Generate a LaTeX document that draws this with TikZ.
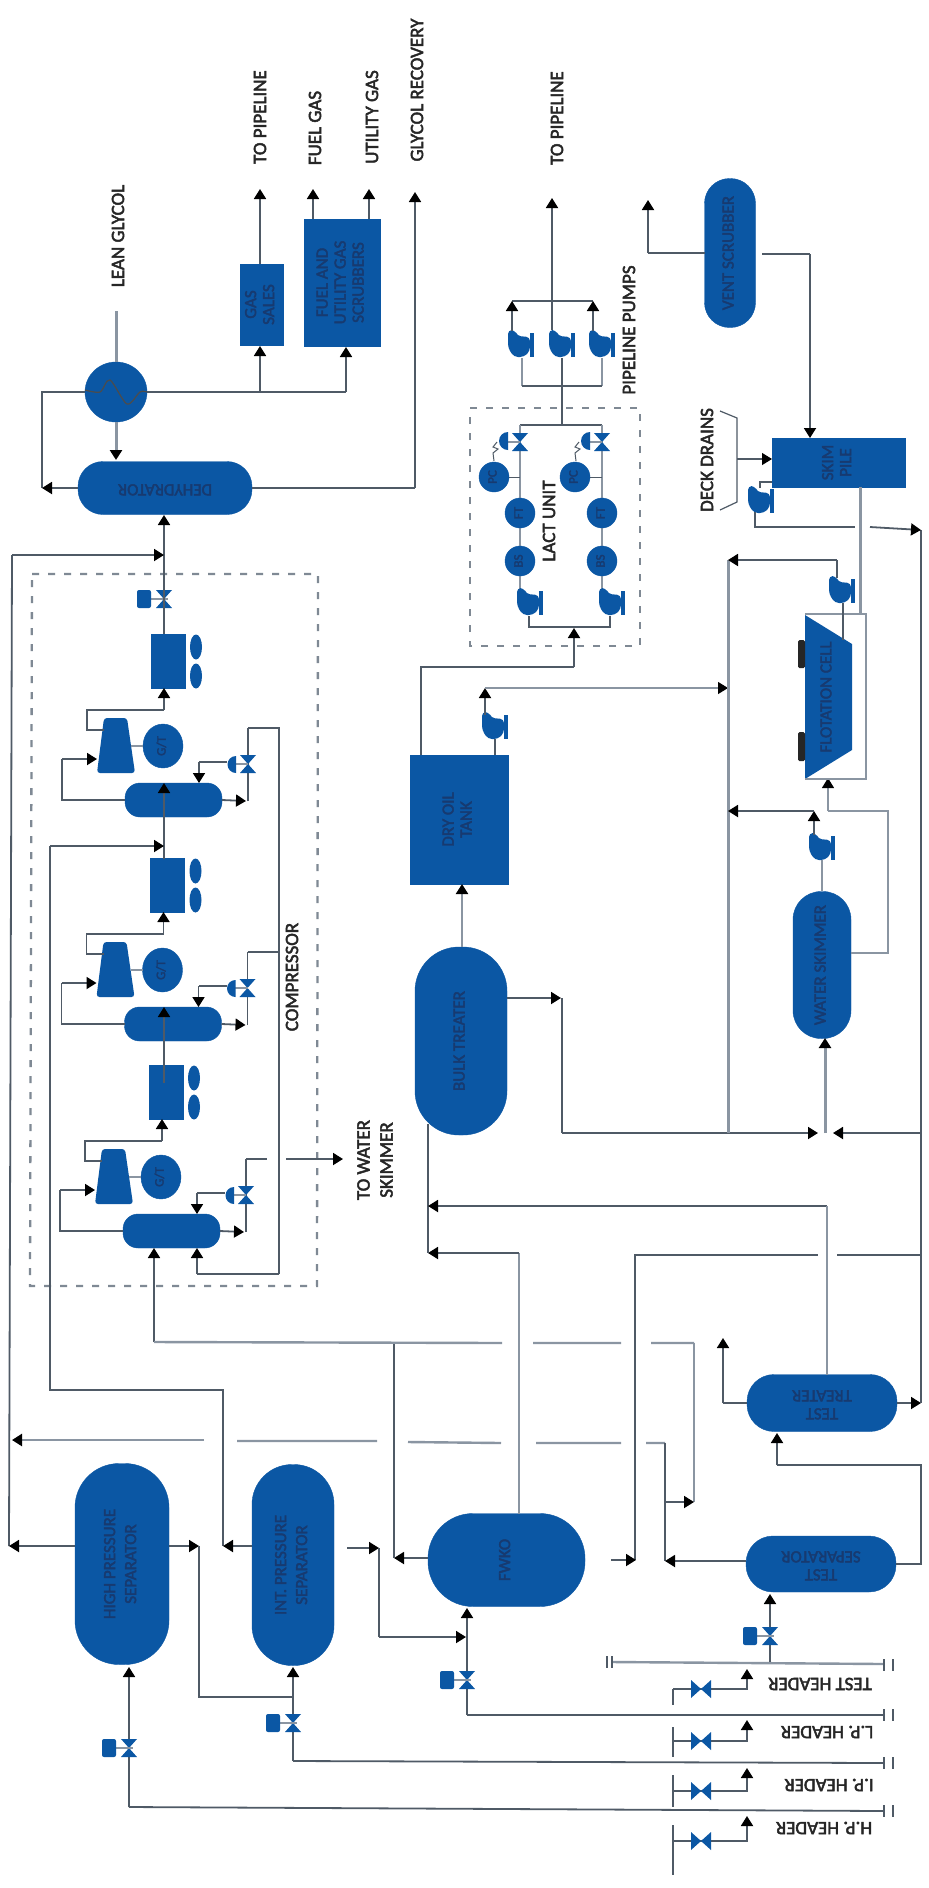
\documentclass[tikz,border=0pt]{standalone}
\usepackage{fontspec}
\usepackage{graphicx}
\setmainfont{Carlito}
\newfontfamily\heavyfont{Carlito}[FakeBold=2.4]
\usetikzlibrary{arrows.meta,shapes.geometric}
\definecolor{vblue}{HTML}{0B57A4}
\definecolor{vtext}{HTML}{173A70}
\definecolor{pipedark}{HTML}{4F5A66}
\definecolor{pipegrey}{HTML}{8A95A2}
\definecolor{dashgrey}{HTML}{7F8994}
\newcommand\lab[2]{\rotatebox{#1}{\begin{tabular}{@{}c@{}}#2\end{tabular}}}
\newcommand\VV[2]{\fill[vblue] (#1-8,#2-9) -- (#1+8,#2-9) -- (#1-8,#2+9) -- (#1+8,#2+9) -- cycle;}
\newcommand\HV[2]{\fill[vblue] (#1-10,#2-9) -- (#1-10,#2+9) -- (#1+10,#2-9) -- (#1+10,#2+9) -- cycle;}
\newcommand\ACT[3]{\draw[pipegrey,line width=1.5pt] (#1+6,#2) -- (#1+24,#2); \fill[vblue,rounded corners=2pt] (#1-7,#2-9) rectangle (#1+7,#2+9);}
\newcommand\pump[2]{\begin{scope}[shift={(#1,#2)}]
 \fill[vblue,rounded corners=4pt] (-13,-14) -- (-6,-14) -- (-4,-8) -- (9,-7) -- (9,7) -- (3,13) -- (-7,13) -- (-13,4) -- cycle;
 \fill[vblue] (9,-11) rectangle (13,13);
 \end{scope}}
\newcommand\hend[2]{\draw[pipedark,line width=2pt] (#1,#2-6) -- (#1,#2+6) (#1+9,#2-6) -- (#1+9,#2+6);}
\newcommand\stage[3]{\begin{scope}[shift={(#2,#3)}]
 \node[cell,minimum width=34pt,minimum height=54pt] (#1cool) at (168,661) {};
 \fill[vblue] (196,647) ellipse [x radius=6pt,y radius=12.5pt];
 \fill[vblue] (196,676) ellipse [x radius=6pt,y radius=12.5pt];
 \node[vessel,minimum width=97pt,minimum height=34pt,rounded corners=15pt] (#1scr) at (173.5,800) {};
 \fill[vblue,rounded corners=3pt] (104,718) -- (127,718) -- (135,773) -- (97,773) -- cycle;
 \node[disc,minimum width=40pt,minimum height=44pt] (#1gt) at (163,746) {\lab{90}{\fontsize{13}{13}\selectfont G/T}};
 \coordinate (#1comp) at (131,746);
 \coordinate (#1top) at (248,728);
 \draw[pipegrey,line width=1.5pt] (#1comp) -- (#1gt.west);
 \draw[pipe] (#1scr.west) -- (62,800) -- (62,759);
 \draw[pipe,flow] (62,759) -- (97,759);
 \draw[pipe] (104,730) -- (87,730) -- (87,710) -- (164,710);
 \draw[pipe,flow] (164,710) -- (164,688);
 \draw[pipe,flow] (#1scr.east) -- (246,801);
 \draw[pipe] (248,801) -- (#1top);
 \VV{248}{764}
 \draw[pipegrey,line width=1.5pt] (248,764) -- (232,764);
 \fill[vblue] (236,756) arc [start angle=90,end angle=270,radius=8.5pt] -- cycle;
 \draw[pipe] (227,762) -- (199,762);
 \draw[pipe,flow] (199,762) -- (199,783);
 \end{scope}}
\tikzset{
 x=1pt,y=-1pt,
 pipe/.style={draw=pipedark,line width=1.8pt,line join=miter},
 heavy/.style={draw=pipegrey,line width=3pt},
 thinp/.style={draw=pipegrey,line width=1.2pt},
 flow/.style={-{Triangle[length=10pt,width=12pt,color=black,fill=black]}},
 boxdash/.style={draw=dashgrey,line width=2.3pt,dash pattern=on 7pt off 9pt},
 cell/.style={draw=vblue,fill=vblue,rectangle,inner sep=0pt,outer sep=0pt,text=vtext,font=\heavyfont\fontsize{17}{18}\selectfont,align=center},
 vessel/.style={cell,rounded corners=25pt},
 disc/.style={draw=vblue,fill=vblue,ellipse,inner sep=0pt,outer sep=0pt,text=vtext,font=\heavyfont\fontsize{13}{13}\selectfont},
 tag/.style={inner sep=0pt,text=black!85,font=\heavyfont\fontsize{19}{20}\selectfont,align=center},
}
\begin{document}
\begin{tikzpicture}
\useasboundingbox (0,0) rectangle (929,1888);
\fill[white] (0,0) rectangle (929,1888);

% dashed frames
\draw[boxdash] (32,574) -- (318,574) -- (317,1286) -- (30,1286) -- cycle;
\draw[boxdash] (470,408) -- (640,408) -- (640,646) -- (470,646) -- cycle;

% gas end
\node[vessel,minimum width=174pt,minimum height=53pt] (dehy) at (165,488) {\lab{180}{DEHYDRATOR}};
\node[disc,minimum width=62pt,minimum height=60pt] (exch) at (116,392) {};
\draw[black!70,line width=1.2pt] plot[smooth] coordinates {(85,390) (100,392) (110,380) (127,404) (140,392) (147,392)};
\node[cell,minimum width=43pt,minimum height=81pt] (gas) at (261.5,304.5) {\lab{90}{GAS\\SALES}};
\node[cell,minimum width=76pt,minimum height=127pt] (fuel) at (342,282.5) {\lab{90}{FUEL AND\\UTILITY GAS\\SCRUBBERS}};
\node[tag,rotate=90] (tp1) at (260,117) {TO PIPELINE};
\node[tag,rotate=90] (tf) at (315,128) {FUEL GAS};
\node[tag,rotate=90] (tu) at (372,117) {UTILITY GAS};
\node[tag,rotate=90] (tg) at (417,90) {GLYCOL RECOVERY};
\node[tag,rotate=90] (tl) at (118,236) {LEAN GLYCOL};
\coordinate (leanin) at (116,311);
\draw[heavy] (leanin) -- (exch.north);
\draw[heavy,flow] (exch.south) -- (116,460);
\draw[pipe] (exch.west) -- (42,392) -- (42,488);
\draw[pipe,flow] (dehy.west) -- (42,488);
\draw[pipe] (exch.east) -- (346,392);
\draw[pipe,flow] (346,392) -- (346,347);
\draw[pipe,flow] (260,392) -- (260,346);
\draw[pipe,flow] (260,264) -- (260,189);
\draw[pipe,flow] (313,219) -- (313,189);
\draw[pipe,flow] (369,219) -- (369,189);
\draw[pipe] (dehy.east) -- (415,488);
\draw[pipe,flow] (415,488) -- (415,192);

% compressor stages
\stage{sc}{0}{0}
\stage{sb}{-0.5}{224}
\stage{sa}{-2}{431}
\VV{164}{599}
\ACT{144}{599}{}
\draw[pipe,flow] (164,634) -- (164,515);
\draw[pipe,flow] (12,555) -- (164,555);
\draw[pipe,flow] (164,859) -- (164,783);
\draw[pipe,flow] (50,846) -- (164,846);
\draw[pipe,flow] (164,1083) -- (164,1007);
\draw[pipe] (sctop) -- (279,728) -- (279,1274);
\draw[pipe] (sbtop) -- (279,952);
\draw[pipe] (satop) -- (267,1159);
\coordinate (toskim) at (286,1159);
\draw[pipe,flow] (toskim) -- (343,1159);
\draw[pipe] (279,1274) -- (197,1274);
\draw[pipe,flow] (197,1274) -- (197,1248);
\draw[pipe,flow] (154,1342) -- (154,1248);
\node[tag] (tc) [rotate=90] at (292,977) {COMPRESSOR};
\node[tag] (tw) [rotate=90] at (375,1160) {TO WATER\\[3pt]SKIMMER};

% separators
\node[vessel,minimum width=94pt,minimum height=201pt,rounded corners=44pt] (hp) at (122,1564) {\lab{90}{HIGH PRESSURE\\[3pt]SEPARATOR}};
\node[vessel,minimum width=82pt,minimum height=201pt,rounded corners=40pt] (ip) at (293,1565) {\lab{90}{INT. PRESSURE\\[3pt]SEPARATOR}};
\node[vessel,minimum width=157pt,minimum height=93pt,rounded corners=45pt] (fwko) at (506.5,1560) {\lab{90}{FWKO}};
\node[vessel,minimum width=150pt,minimum height=56pt,rounded corners=27pt] (tsep) at (821,1564) {\lab{180}{TEST\\SEPARATOR}};
\node[vessel,minimum width=150pt,minimum height=57pt,rounded corners=27pt] (ttr) at (822,1403) {\lab{180}{TEST\\TREATER}};

\draw[pipe] (12,555) -- (9,1546);
\draw[pipe,flow] (75,1546) -- (9,1546);
\draw[pipe,flow] (169,1546) -- (199,1546);
\draw[pipe] (199,1546) -- (199,1697) -- (293,1697);
\draw[pipe] (50,846) -- (50,1390) -- (223,1390) -- (223,1546);
\draw[pipe,flow] (252,1546) -- (223,1546);
\draw[pipe,flow] (347,1548) -- (379,1548);
\draw[pipe] (379,1548) -- (379,1637);
\draw[pipe,flow] (379,1637) -- (466,1637);
\draw[pipe,flow] (428,1558) -- (394,1558);
\draw[pipe] (394,1558) -- (394,1342);
\draw[heavy,line width=2.4pt] (154,1342) -- (502,1343) (533,1343) -- (621,1343) (651,1343) -- (694,1343);
\draw[thinp] (694,1343) -- (694,1502);
\draw[pipe,flow] (664,1502) -- (694,1502);
\draw[heavy,line width=2.4pt,flow] (204,1440) -- (12,1440);
\draw[heavy,line width=2.4pt] (237,1441) -- (377,1441) (408,1442) -- (501,1443) (536,1443) -- (621,1443) (646,1443) -- (665,1443);
\draw[pipe] (665,1443) -- (665,1561);
\draw[pipe,flow] (746,1561) -- (665,1561);

% inlet lines and headers
\draw[pipe,flow] (129,1807) -- (129,1667);
\VV{129}{1748} \ACT{109}{1748}{}
\draw[pipe] (129,1807) -- (883,1811);
\draw[pipe,flow] (293,1761) -- (293,1667);
\VV{293}{1723} \ACT{273}{1723}{}
\draw[pipe] (293,1761) -- (883,1763);
\draw[pipe,flow] (467,1715) -- (467,1608);
\VV{467}{1680} \ACT{447}{1680}{}
\draw[pipe] (467,1715) -- (883,1715);
\draw[heavy,line width=2.4pt] (612,1662) -- (883,1664);
\draw[pipe,flow] (770,1662) -- (770,1594);
\VV{770}{1636} \ACT{750}{1636}{}
\hend{884}{1665} \hend{884}{1715} \hend{884}{1763} \hend{884}{1811}
\draw[pipedark,line width=2pt] (607,1656) -- (607,1668) (612,1656) -- (612,1668);
\foreach \yy/\yt/\ya in {1689/1669/1705,1741/1720/1727,1791/1768/1775,1841/1816/1825}{
 \draw[pipe,flow] (673,\yy) -- (747,\yy) -- (747,\yt);
 \HV{701}{\yy}
}
\draw[pipe] (673,1689) -- (673,1705) (673,1727) -- (673,1757) (673,1775) -- (673,1807) (673,1825) -- (673,1875);
\node[tag,rotate=180] (thd) at (820,1684) {TEST HEADER};
\node[tag,rotate=180] (lhd) at (827,1732) {L.P. HEADER};
\node[tag,rotate=180] (ihd) at (829,1785) {I.P. HEADER};
\node[tag,rotate=180] (hhd) at (824,1828) {H.P. HEADER};

% test units
\draw[pipe] (ttr.west) -- (723,1403);
\draw[pipe,flow] (723,1403) -- (723,1338);
\draw[pipe,flow] (ttr.east) -- (921,1403);
\draw[pipe] (tsep.east) -- (921,1564) -- (921,1465) -- (777,1465);
\draw[pipe,flow] (777,1465) -- (777,1433);
\draw[pipe] (921,1403) -- (921,530);

% oil train
\node[vessel,minimum width=92pt,minimum height=188pt,rounded corners=44pt] (bulk) at (461,1041) {\lab{90}{BULK TREATER}};
\node[cell,minimum width=98pt,minimum height=129pt] (tank) at (459,819.5) {\lab{90}{DRY OIL\\TANK}};
\draw[heavy,line width=2.2pt,flow] (462,947) -- (462,884);
\draw[thinp] (519,1514) -- (519,1253);
\draw[pipe,flow] (519,1253) -- (428,1253);
\draw[pipe] (428,1124) -- (428,1253);
\draw[pipe,flow] (827,1206) -- (428,1206);
\draw[thinp] (827,1375) -- (827,1206);
\draw[pipe] (635,1560) -- (635,1255) -- (818,1255);
\draw[pipe,flow] (611,1560) -- (636,1560);
\draw[pipe] (837,1255) -- (921,1255);
\draw[pipe] (421,755) -- (421,667) -- (574,667);
\draw[pipe,flow] (574,667) -- (574,628);
\pump{495}{726}
\draw[pipe] (495,739) -- (495,755);
\draw[pipe,flow] (485,715) -- (485,688);
\draw[thinp,flow] (485,688) -- (728,688);

% water treatment
\node[vessel,minimum width=58pt,minimum height=147pt,rounded corners=28pt] (water) at (822,965) {\lab{90}{WATER SKIMMER}};
\draw[pipe,flow] (507,998) -- (561,998);
\draw[pipe] (562,998) -- (562,1133);
\draw[pipe,flow] (562,1133) -- (818,1133);
\draw[pipe,flow] (921,1133) -- (833,1133);
\draw[heavy,flow] (825,1133) -- (825,1038);
\draw[heavy] (728,1133) -- (728,560);
\draw[pipe,flow] (837,560) -- (728,560);
\draw[pipe] (837,560) -- (837,578);
\pump{822}{847}
\draw[heavy,line width=2.4pt] (822,891) -- (822,860);
\draw[pipe,flow] (814,835) -- (814,811);
\draw[pipe,flow] (814,811) -- (728,811);
\draw[pipegrey,line width=2pt] (851,953) -- (888,953) -- (888,811) -- (828,811);
\draw[thinp,flow] (828,811) -- (828,778);
\fill[vblue] (805,615) -- (852,644) -- (852,750) -- (805,779) -- cycle;
\fill[black!85,rounded corners=1.5pt] (798,640) rectangle (805,668) (798,732) rectangle (805,761);
\node[inner sep=0pt,text=vtext,font=\heavyfont\fontsize{17}{18}\selectfont,rotate=90] (flot) at (826,697) {FLOTATION CELL};
\draw[thinp] (805,779) -- (866,779) -- (866,614) -- (805,614);
\pump{842}{590}
\draw[pipe,line width=1.1pt] (843,603) -- (843,640);

% skim pile and vent
\node[cell,minimum width=133pt,minimum height=49pt] (skim) at (838.5,462.5) {\lab{90}{SKIM\\PILE}};
\node[vessel,minimum width=51pt,minimum height=149pt,rounded corners=25pt] (vent) at (730,253) {\lab{90}{VENT SCRUBBER}};
\draw[pipe] (vent.west) -- (648,253);
\draw[pipe,flow] (648,253) -- (648,200);
\draw[pipe] (762,254) -- (810,254);
\draw[pipe,flow] (810,254) -- (810,438);
\draw[heavy] (860,487) -- (860,614);
\pump{761}{500}
\draw[pipe] (760,488) -- (760,482) -- (772,482);
\draw[pipe] (755,512) -- (755,527) -- (855,527);
\draw[pipe,flow] (870,527) -- (921,530);
\draw[pipe,line width=1.2pt] (720,411) -- (737,418) -- (737,502) -- (720,510);
\draw[pipe,line width=1.2pt,flow] (737,459) -- (772,459);
\node[tag,rotate=90] (td) at (707,460) {DECK DRAINS};

% pipeline pumps and LACT unit
\node[tag,rotate=90] (tp2) at (557,118) {TO PIPELINE};
\node[tag,rotate=90] (tpp) at (629,330) {PIPELINE PUMPS};
\node[tag,rotate=90] (tlu) at (549,521) {LACT UNIT};
\pump{521}{344}
\pump{562}{344}
\pump{602}{344}
\draw[pipe,flow] (552,330) -- (552,198);
\draw[pipe] (512,301) -- (593,301);
\draw[pipe,flow] (512,331) -- (512,301);
\draw[pipe,flow] (593,331) -- (593,301);
\draw[heavy,line width=2.4pt] (522,358) -- (522,386) (602,386) -- (602,358);
\draw[pipe] (522,386) -- (602,386);
\draw[pipe,line width=2.2pt] (562,358) -- (562,425);
\draw[pipe] (520,425) -- (602,425);
\draw[heavy,line width=2.4pt] (520,425) -- (520,589) (602,425) -- (602,589);
\foreach \xv/\xc/\nm in {520/494/l,602/575/r}{
 \VV{\xv}{442}
 \draw[pipegrey,line width=2pt] (\xv,442) -- (\xv-18,442);
 \fill[vblue] (\xv-12,432) arc [start angle=90,end angle=270,radius=9pt] -- cycle;
 \draw[pipedark,line width=1pt] (\xv-23,442) -- (\xv-27,447) -- (\xv-22,449) -- (\xv-27,453) -- (\xv-26,461);
 \draw[pipedark,line width=1pt] (\xc+15,477) -- (\xv,477);
}
\node[disc,minimum width=30pt,minimum height=30pt] (pcl) at (494,477) {\lab{90}{PC}};
\node[disc,minimum width=30pt,minimum height=30pt] (ftl) at (520,513) {\lab{90}{FT}};
\node[disc,minimum width=30pt,minimum height=30pt] (bsl) at (520,561) {\lab{90}{BS}};
\node[disc,minimum width=30pt,minimum height=30pt] (pcr) at (575,477) {\lab{90}{PC}};
\node[disc,minimum width=30pt,minimum height=30pt] (ftr) at (602,513) {\lab{90}{FT}};
\node[disc,minimum width=30pt,minimum height=30pt] (bsr) at (602,561) {\lab{90}{BS}};
\pump{530}{602}
\pump{612}{602}
\draw[pipe] (529,616) -- (529,627) -- (610,627) -- (610,616);
\end{tikzpicture}
\end{document}
